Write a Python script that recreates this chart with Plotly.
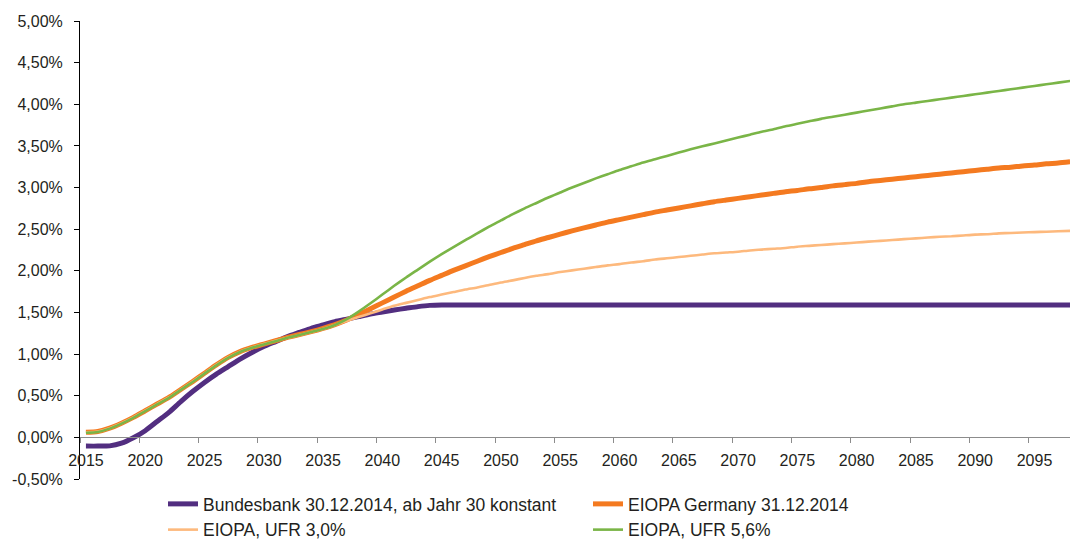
import plotly.graph_objects as go

years = list(range(2015, 2099))

bundesbank = [
    -0.105, -0.105, -0.102, -0.070, -0.005, 0.080, 0.190, 0.300, 0.430, 0.550,
    0.660, 0.760, 0.850, 0.940, 1.020, 1.090, 1.150, 1.210, 1.260, 1.310,
    1.350, 1.390, 1.420, 1.450, 1.480, 1.505, 1.530, 1.550, 1.570, 1.585,
    1.590, 1.590, 1.590, 1.590, 1.590, 1.590, 1.590, 1.590, 1.590, 1.590,
    1.590, 1.590, 1.590, 1.590, 1.590, 1.590, 1.590, 1.590, 1.590, 1.590,
    1.590, 1.590, 1.590, 1.590, 1.590, 1.590, 1.590, 1.590, 1.590, 1.590,
    1.590, 1.590, 1.590, 1.590, 1.590, 1.590, 1.590, 1.590, 1.590, 1.590,
    1.590, 1.590, 1.590, 1.590, 1.590, 1.590, 1.590, 1.590, 1.590, 1.590,
    1.590, 1.590, 1.590, 1.590,
]

eiopa_germany = [
    0.060, 0.070, 0.110, 0.170, 0.240, 0.320, 0.400, 0.480, 0.575, 0.670,
    0.770, 0.870, 0.960, 1.030, 1.080, 1.120, 1.160, 1.200, 1.235, 1.270,
    1.310, 1.355, 1.410, 1.475, 1.545, 1.615, 1.685, 1.755, 1.820, 1.885,
    1.945, 2.005, 2.060, 2.115, 2.170, 2.220, 2.270, 2.315, 2.360, 2.400,
    2.440, 2.480, 2.515, 2.550, 2.585, 2.615, 2.645, 2.675, 2.705, 2.730,
    2.755, 2.780, 2.805, 2.830, 2.850, 2.870, 2.890, 2.910, 2.930, 2.950,
    2.965, 2.985, 3.000, 3.020, 3.035, 3.050, 3.070, 3.085, 3.100, 3.115,
    3.130, 3.145, 3.160, 3.175, 3.190, 3.205, 3.220, 3.235, 3.245, 3.260,
    3.270, 3.285, 3.295, 3.310,
]

eiopa_ufr30 = [
    0.060, 0.070, 0.110, 0.170, 0.240, 0.320, 0.400, 0.480, 0.575, 0.670,
    0.770, 0.870, 0.960, 1.030, 1.080, 1.120, 1.160, 1.195, 1.230, 1.265,
    1.300, 1.350, 1.400, 1.445, 1.490, 1.535, 1.580, 1.615, 1.650, 1.685,
    1.715, 1.745, 1.775, 1.800, 1.830, 1.860, 1.885, 1.915, 1.940, 1.960,
    1.985, 2.005, 2.025, 2.045, 2.065, 2.080, 2.100, 2.115, 2.135, 2.150,
    2.165, 2.180, 2.195, 2.210, 2.220, 2.230, 2.245, 2.255, 2.265, 2.275,
    2.290, 2.300, 2.310, 2.320, 2.330, 2.340, 2.350, 2.360, 2.370, 2.380,
    2.390, 2.400, 2.410, 2.415, 2.425, 2.435, 2.440, 2.450, 2.455, 2.460,
    2.465, 2.470, 2.475, 2.480,
]

eiopa_ufr56 = [
    0.055, 0.065, 0.105, 0.165, 0.235, 0.315, 0.395, 0.475, 0.570, 0.665,
    0.765, 0.865, 0.955, 1.025, 1.075, 1.115, 1.155, 1.195, 1.230, 1.265,
    1.300, 1.350, 1.420, 1.510, 1.610, 1.715, 1.820, 1.920, 2.015, 2.110,
    2.200, 2.285, 2.370, 2.450, 2.530, 2.605, 2.680, 2.750, 2.815, 2.880,
    2.940, 3.000, 3.055, 3.110, 3.160, 3.210, 3.255, 3.300, 3.340, 3.380,
    3.420, 3.460, 3.495, 3.530, 3.565, 3.600, 3.635, 3.670, 3.700, 3.735,
    3.765, 3.795, 3.825, 3.850, 3.875, 3.900, 3.925, 3.950, 3.975, 4.000,
    4.020, 4.040, 4.060, 4.080, 4.100, 4.120, 4.140, 4.160, 4.180, 4.200,
    4.220, 4.240, 4.260, 4.280,
]

series_names = [
    "Bundesbank 30.12.2014, ab Jahr 30 konstant",
    "EIOPA Germany 31.12.2014",
    "EIOPA, UFR 3,0%",
    "EIOPA, UFR 5,6%",
]

y_ticks = [-0.5, 0.0, 0.5, 1.0, 1.5, 2.0, 2.5, 3.0, 3.5, 4.0, 4.5, 5.0]
y_tick_labels = [("%.2f" % v).replace(".", ",") + "%" for v in y_ticks]
x_ticks = list(range(2015, 2096, 5))
x_tick_labels = [str(v) for v in x_ticks]

colors = ["#522e80", "#f47a20", "#fdb97d", "#7ab547"]
widths = [5, 5, 2.6, 2.6]
data = [bundesbank, eiopa_germany, eiopa_ufr30, eiopa_ufr56]

fig = go.Figure()
for name, vals, c, w in zip(series_names, data, colors, widths):
    fig.add_trace(go.Scatter(
        x=years, y=vals, name=name, mode="lines",
        line=dict(color=c, width=w, shape="spline", smoothing=0.6),
        hoverinfo="skip",
    ))

font_family = "Liberation Sans, Arial, sans-serif"
text_color = "#231f20"

# the page body adds an 8px offset, so the figure is sized to fit the window
fig.update_layout(
    width=1070, height=536,
    margin=dict(l=72, r=2, t=13, b=65, autoexpand=False),
    paper_bgcolor="white", plot_bgcolor="white",
    font=dict(family=font_family, size=16, color=text_color),
    showlegend=True,
    legend=dict(
        orientation="h",
        x=(163 - 80) / 996, xanchor="left",
        y=(479 - 486) / 458, yanchor="top",
        font=dict(size=17.5, color=text_color, family=font_family),
        entrywidth=380, entrywidthmode="pixels",
        traceorder="normal",
        bgcolor="rgba(0,0,0,0)",
    ),
    xaxis=dict(
        range=[2014.5, 2098.5],
        anchor="free", position=0.5 / 5.5, automargin=False,
        showline=True, linecolor="#8c8c8c", linewidth=1,
        showgrid=False, zeroline=False,
        tickmode="array", tickvals=x_ticks, ticktext=x_tick_labels,
        ticks="", ticklabelstandoff=8,
        tickfont=dict(size=16, color=text_color),
        minor=dict(tickmode="linear", tick0=2014.5, dtick=5, ticks="outside",
                   ticklen=5, tickcolor="#8c8c8c", tickwidth=1, showgrid=False),
    ),
    yaxis=dict(
        range=[-0.5, 5.0], domain=[0, 1], automargin=False,
        showline=True, linecolor="#000000", linewidth=1,
        showgrid=False, zeroline=False,
        tickmode="array", tickvals=y_ticks, ticktext=y_tick_labels,
        ticks="outside", ticklen=5, tickcolor="#000000", tickwidth=1,
        ticklabelstandoff=8,
        tickfont=dict(size=16, color=text_color),
    ),
)

fig.write_html("out.html")
